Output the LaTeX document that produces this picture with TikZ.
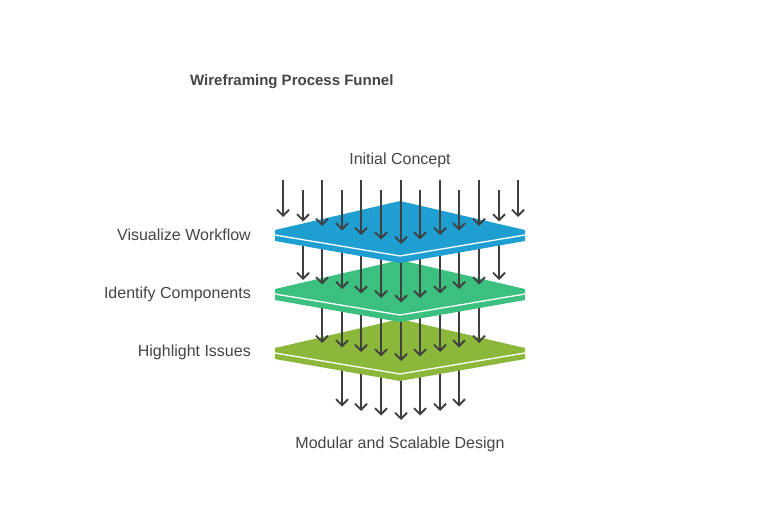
\documentclass[tikz,border=0pt]{standalone}
\usepackage{fontspec}
\setmainfont{Liberation Sans}
\usetikzlibrary{arrows.meta}

\definecolor{inkgray}{HTML}{444444}
\definecolor{arrowgray}{HTML}{3F3F3F}
\definecolor{layerblue}{HTML}{1F9FD1}
\definecolor{layergreen}{HTML}{3BC07F}
\definecolor{layerolive}{HTML}{8BB83A}

\tikzset{
  flow/.style={draw=arrowgray, line width=1.8pt, -{Straight Barb[length=6pt, width=12pt]}},
  label/.style={text=inkgray, font=\fontsize{16}{19}\selectfont, inner sep=0pt},
  edge line/.style={white, line width=1.3pt}
}

\begin{document}
\begin{tikzpicture}[x=1pt, y=-1pt]
  % canvas 784 x 508, y runs downwards
  \useasboundingbox (0,0) rectangle (784,508);

  % Title
  \node[label, font=\fontsize{15}{18}\selectfont\bfseries, anchor=west] (title) at (190,82) {Wireframing Process Funnel};

  % Bottom arrows (come out under the olive layer)
  \foreach \i in {3,...,9} {
    \pgfmathsetmacro{\m}{min(\i,12-\i)}
    \pgfmathsetmacro{\x}{round(283+19.6*\i)}
    \draw[flow] (\x, 358) -- (\x, 393+4.5*\m);
  }

  % Layer 3: Highlight Issues
  \fill[layerolive] (275,348) -- (400,319) -- (525,348) -- (525,359) -- (400,381) -- (275,359) -- cycle;
  \draw[edge line] (275,353) -- (400,374) -- (525,353);

  % arrows onto the olive layer
  \foreach \i in {2,...,10} {
    \pgfmathsetmacro{\m}{min(\i,12-\i)}
    \pgfmathsetmacro{\x}{round(283+19.6*\i)}
    \draw[flow] (\x, 299) -- (\x, 334+4.5*\m);
  }

  % Layer 2: Identify Components
  \fill[layergreen] (275,289) -- (400,260) -- (525,289) -- (525,300) -- (400,322) -- (275,300) -- cycle;
  \draw[edge line] (275,294) -- (400,315) -- (525,294);

  % arrows onto the green layer
  \foreach \i in {1,...,11} {
    \pgfmathsetmacro{\m}{min(\i,12-\i)}
    \pgfmathsetmacro{\x}{round(283+19.6*\i)}
    \draw[flow] (\x, 240) -- (\x, 275.5+4.5*\m);
  }

  % Layer 1: Visualize Workflow
  \fill[layerblue] (275,230) -- (400,201) -- (525,230) -- (525,241) -- (400,263) -- (275,241) -- cycle;
  \draw[edge line] (275,235) -- (400,256) -- (525,235);

  % incoming arrows onto the blue layer
  \foreach \i in {0,...,12} {
    \pgfmathsetmacro{\m}{min(\i,12-\i)}
    \pgfmathsetmacro{\x}{round(283+19.6*\i)}
    \pgfmathsetmacro{\ystart}{isodd(\i) ? 190 : 180}
    \draw[flow] (\x, \ystart) -- (\x, 217+4.5*\m);
  }

  % Labels
  \node[label] (input) at (400,160) {Initial Concept};
  \node[label, anchor=east] (visualize) at (251,235) {Visualize Workflow};
  \node[label, anchor=east] (identify) at (251,294) {Identify Components};
  \node[label, anchor=east] (highlight) at (251,352) {Highlight Issues};
  \node[label] (output) at (400,444) {Modular and Scalable Design};
\end{tikzpicture}
\end{document}
